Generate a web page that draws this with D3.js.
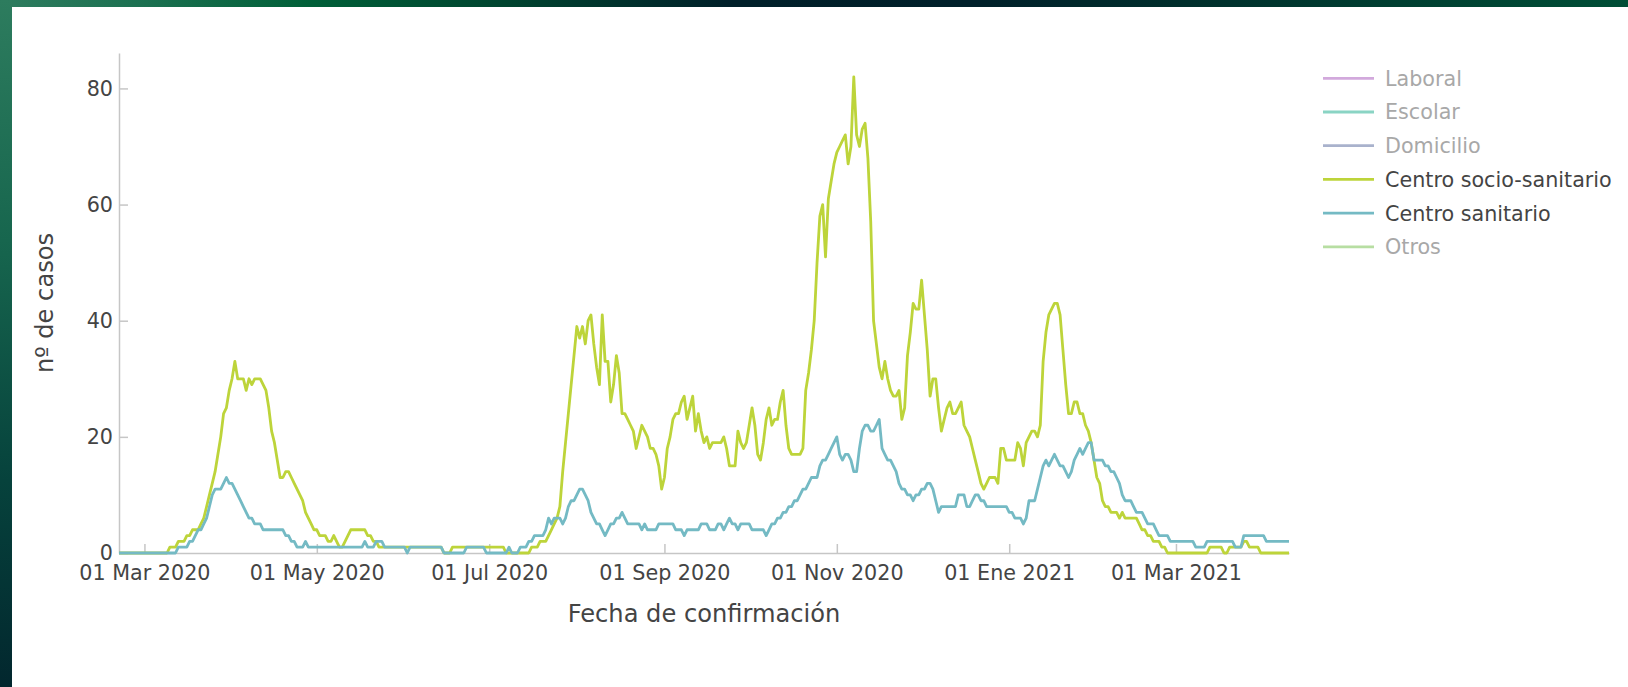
<!DOCTYPE html>
<html>
<head>
<meta charset="utf-8">
<script src="https://cdn.jsdelivr.net/npm/d3@7"></script>
<style>
  body{margin:0;background:#fff;overflow:hidden;}
  svg{display:block;font-family:"DejaVu Sans",Verdana,sans-serif;}
</style>
</head>
<body>
<div id="grafico"></div>
<script>
// ===== datos (casos diarios, desde fechaInicio) =====
const fechaInicio = "2020-02-21";

// Centro socio-sanitario
const socioSanitario = [
  0,0,0,0,0,0,0,0,0,0,  0,0,0,0,0,0,0,0,1,1,
  1,2,2,2,3,3,4,4,4,5,  6,8,10,12,14,17,20,24,25,28,
  30,33,30,30,30,28,30,29,30,30,  30,29,28,25,21,19,16,13,13,14,
  14,13,12,11,10,9,7,6,5,4,  4,3,3,3,2,2,3,2,1,1,
  2,3,4,4,4,4,4,4,3,3,  2,2,1,1,1,1,1,1,1,1,
  1,1,1,1,1,1,1,1,1,1,  1,1,1,1,1,0,0,0,1,1,
  1,1,1,1,1,1,1,1,1,1,  1,1,1,1,1,1,1,0,0,0,
  0,0,0,0,0,0,1,1,1,2,  2,2,3,4,5,6,8,14,19,24,
  29,34,39,37,39,36,40,41,36,32,  29,41,33,33,26,29,34,31,24,24,
  23,22,21,18,20,22,21,20,18,18,  17,15,11,13,18,20,23,24,24,26,
  27,23,25,27,21,24,21,19,20,18,  19,19,19,19,20,18,15,15,15,21,
  19,18,19,22,25,22,17,16,19,23,  25,22,23,23,26,28,22,18,17,17,
  17,17,18,28,31,35,40,50,58,60,  51,61,64,67,69,70,71,72,67,70,
  82,72,70,73,74,68,57,40,36,32,  30,33,30,28,27,27,28,23,25,34,
  38,43,42,42,47,41,35,27,30,30,  25,21,23,25,26,24,24,25,26,22,
  21,20,18,16,14,12,11,12,13,13,  13,12,18,18,16,16,16,16,19,18,
  15,19,20,21,21,20,22,33,38,41,  42,43,43,41,35,29,24,24,26,26,
  24,24,22,21,19,16,13,12,9,8,  8,7,7,7,6,7,6,6,6,6,
  6,5,4,4,3,3,2,2,2,1,  1,0,0,0,0,0,0,0,0,0,
  0,0,0,0,0,0,1,1,1,1,  1,0,0,1,1,1,1,1,2,2,
  1,1,1,1,0,0,0,0,0,0,  0,0,0,0,0
];

// Centro sanitario
const sanitario = [
  0,0,0,0,0,0,0,0,0,0,  0,0,0,0,0,0,0,0,0,0,
  0,1,1,1,1,2,2,3,4,4,  5,6,8,10,11,11,11,12,13,12,
  12,11,10,9,8,7,6,6,5,5,  5,4,4,4,4,4,4,4,4,3,
  3,2,2,1,1,1,2,1,1,1,  1,1,1,1,1,1,1,1,1,1,
  1,1,1,1,1,1,1,2,1,1,  1,2,2,2,1,1,1,1,1,1,
  1,1,0,1,1,1,1,1,1,1,  1,1,1,1,1,0,0,0,0,0,
  0,0,0,1,1,1,1,1,1,1,  0,0,0,0,0,0,0,0,1,0,
  0,0,1,1,1,2,2,3,3,3,  3,4,6,5,6,6,6,5,6,8,
  9,9,10,11,11,10,9,7,6,5,  5,4,3,4,5,5,6,6,7,6,
  5,5,5,5,5,4,5,4,4,4,  4,5,5,5,5,5,5,4,4,4,
  3,4,4,4,4,4,5,5,5,4,  4,4,5,5,4,5,6,5,5,4,
  5,5,5,5,4,4,4,4,4,3,  4,5,5,6,6,7,7,8,8,9,
  9,10,11,11,12,13,13,13,15,16,  16,17,18,19,20,17,16,17,17,16,
  14,14,18,21,22,22,21,21,22,23,  18,17,16,16,15,14,12,11,11,10,
  10,9,10,10,11,11,12,12,11,9,  7,8,8,8,8,8,8,10,10,10,
  8,8,9,10,10,9,9,8,8,8,  8,8,8,8,8,7,7,6,6,6,
  5,6,9,9,9,11,13,15,16,15,  16,17,16,15,15,14,13,14,16,17,
  18,17,18,19,19,16,16,16,16,15,  15,14,14,13,12,10,9,9,9,8,
  7,7,7,6,5,5,5,4,3,3,  3,3,2,2,2,2,2,2,2,2,
  2,1,1,1,1,2,2,2,2,2,  2,2,2,2,2,1,1,1,3,3,
  3,3,3,3,3,3,2,2,2,2,  2,2,2,2,2
];

// leyenda (las ocultas sólo aparecen en la leyenda)
const leyendaNombres = ["Laboral","Escolar","Domicilio","Centro socio-sanitario","Centro sanitario","Otros"];
const leyendaColores = ["#d2a9dc","#8ad4c4","#a9b2cc","#bdd43a","#74bac4","#b7dea2"];
const leyendaActiva  = [false,false,false,true,true,false];

// ticks
const ticksX  = ["2020-03-01","2020-05-01","2020-07-01","2020-09-01","2020-11-01","2021-01-01","2021-03-01"];
const mesesES = ["Ene","Feb","Mar","Abr","May","Jun","Jul","Ago","Sep","Oct","Nov","Dic"];
const ticksY  = [0,20,40,60,80];

// ===== dibujo =====
const W = 1628, H = 687;
const caja = {x1:119, x2:1289, y1:53, y2:553};
const fuente = 20.7, fuenteTitulo = 24.15;
const gris = "#c6c6c6", texto = "#444";

const parseFecha = d3.timeParse("%Y-%m-%d");
const t0 = parseFecha(fechaInicio);
const fechas = socioSanitario.map((v,i) => d3.timeDay.offset(t0, i));

const svg = d3.select("#grafico").append("svg")
              .attr("width", W)
              .attr("height", H)
              .attr("viewBox", "0 0 "+W+" "+H);

// marco verde de la pagina
const defs = svg.append("defs");
const gTop = defs.append("linearGradient").attr("id","gTop").attr("x1","0").attr("x2","1").attr("y1","0").attr("y2","0");
[["0%","#2e7c5f"],["9%","#1b7050"],["19%","#005f38"],["31%","#00442f"],["45%","#001f29"],
 ["60%","#00202a"],["73%","#002f2c"],["86%","#003f31"],["100%","#004e36"]]
  .forEach(s => gTop.append("stop").attr("offset", s[0]).attr("stop-color", s[1]));
const gLeft = defs.append("linearGradient").attr("id","gLeft").attr("x1","0").attr("x2","0").attr("y1","0").attr("y2","1");
[["0%","#2d7c5e"],["35%","#17664e"],["70%","#06423c"],["100%","#02272e"]]
  .forEach(s => gLeft.append("stop").attr("offset", s[0]).attr("stop-color", s[1]));

svg.append("rect").attr("x",0).attr("y",0).attr("width",W).attr("height",7).attr("fill","url(#gTop)");
svg.append("rect").attr("x",0).attr("y",0).attr("width",12).attr("height",H).attr("fill","url(#gLeft)");

// escalas
const x = d3.scaleTime()
            .domain([fechas[0], fechas[fechas.length-1]])
            .range([caja.x1, caja.x2]);
const yMax = d3.max(socioSanitario.concat(sanitario)) * 1.05;
const y = d3.scaleLinear().domain([0, yMax]).range([caja.y2, caja.y1]);

// ejes (ticks hacia dentro)
const xAxis = d3.axisBottom(x)
                .tickValues(ticksX.map(parseFecha))
                .tickFormat(d => d3.timeFormat("%d")(d)+" "+mesesES[d.getMonth()]+" "+d.getFullYear())
                .tickSizeInner(-9).tickSizeOuter(0).tickPadding(12);
const yAxis = d3.axisLeft(y)
                .tickValues(ticksY)
                .tickSizeInner(-9).tickSizeOuter(0).tickPadding(6);

function estiloEje(g){
  g.attr("font-family", null).attr("font-size", null);
  g.select(".domain").attr("stroke", gris).attr("stroke-width", 1.5);
  g.selectAll(".tick line").attr("stroke", gris).attr("stroke-width", 1.5);
  g.selectAll(".tick text").attr("fill", texto).style("font-size", fuente+"px");
}

svg.append("g")
   .attr("transform", "translate(0,"+caja.y2+")")
   .call(xAxis)
   .call(estiloEje);
svg.append("g")
   .attr("transform", "translate("+caja.x1+",0)")
   .call(yAxis)
   .call(estiloEje);

// titulos de ejes
svg.append("text")
   .attr("x", (caja.x1+caja.x2)/2)
   .attr("y", 622)
   .attr("text-anchor", "middle")
   .attr("fill", texto)
   .style("font-size", fuenteTitulo+"px")
   .text("Fecha de confirmación");
svg.append("text")
   .attr("transform", "translate(53,"+((caja.y1+caja.y2)/2)+") rotate(-90)")
   .attr("text-anchor", "middle")
   .attr("fill", texto)
   .style("font-size", fuenteTitulo+"px")
   .text("nº de casos");

// lineas
const linea = d3.line()
                .x((d,i) => x(fechas[i]))
                .y(d => y(d));
const series = [
  {nombre:"Centro socio-sanitario", valores:socioSanitario},
  {nombre:"Centro sanitario", valores:sanitario}
];
svg.append("g")
   .selectAll("path")
   .data(series)
   .join("path")
   .attr("fill", "none")
   .attr("stroke", d => leyendaColores[leyendaNombres.indexOf(d.nombre)])
   .attr("stroke-width", 2.8)
   .attr("stroke-linejoin", "round")
   .attr("d", d => linea(d.valores));

// leyenda
const leyenda = svg.append("g").attr("transform", "translate(1323,78.3)");
const items = leyenda.selectAll("g")
                     .data(leyendaNombres)
                     .join("g")
                     .attr("transform", (d,i) => "translate(0,"+(i*33.7)+")");
items.append("line")
     .attr("x1", 0).attr("x2", 51)
     .attr("stroke", (d,i) => leyendaColores[i])
     .attr("stroke-width", 2.8);
items.append("text")
     .attr("x", 62)
     .attr("dy", "0.36em")
     .attr("fill", (d,i) => leyendaActiva[i] ? texto : "#a8a8a8")
     .style("font-size", fuente+"px")
     .text(d => d);
</script>
</body>
</html>
